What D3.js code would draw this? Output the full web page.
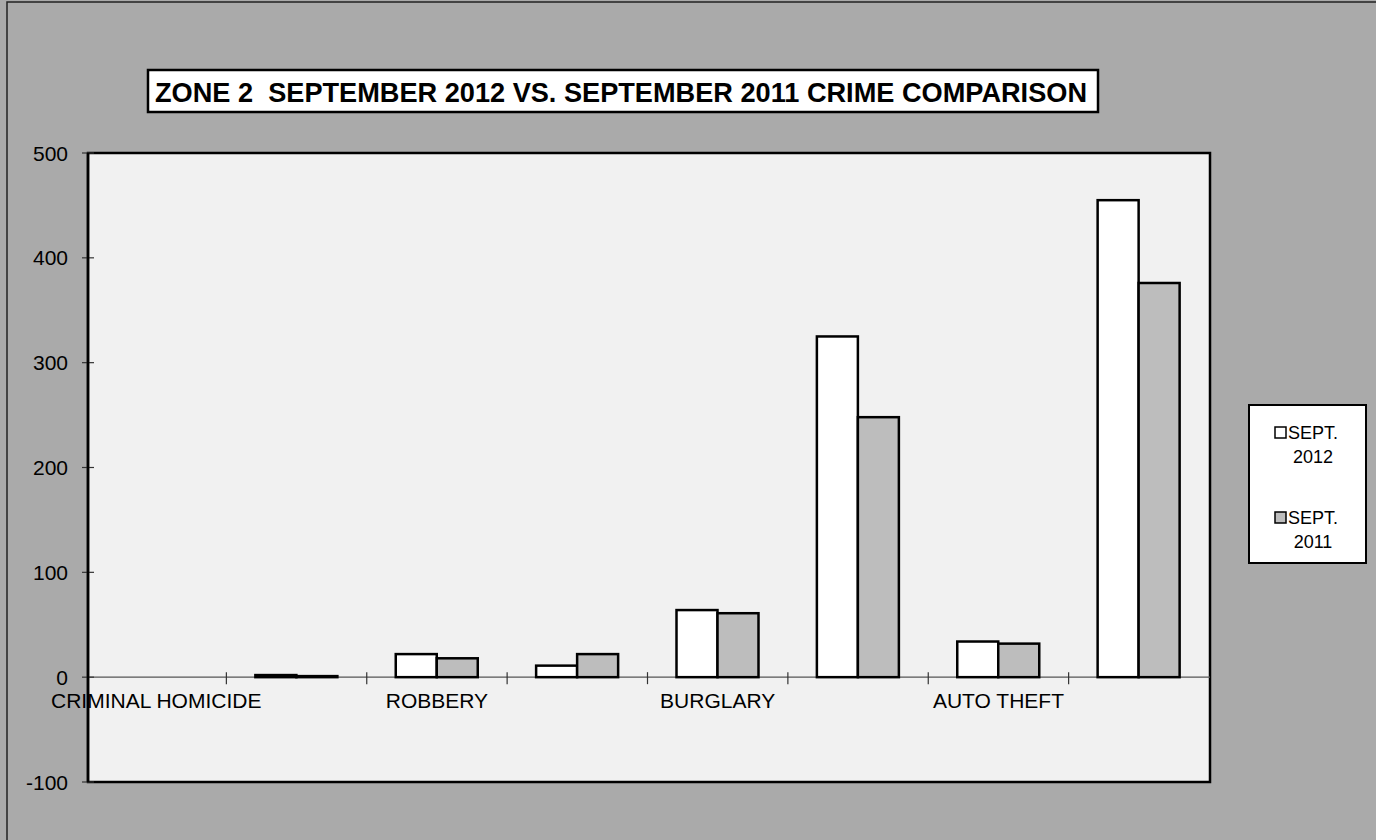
<!DOCTYPE html>
<html lang="en">

<head>
  <meta charset="UTF-8">
  <title>Zone 2 crime comparison</title>
  <style>
    body { margin: 0; background: #aaaaaa; }
    text { font-family: "Liberation Sans", Arial, sans-serif; fill: #000; }
  </style>
</head>

<body>
  <svg id="svg" width="1376" height="840"></svg>

  <script src="https://cdn.jsdelivr.net/npm/d3@7"></script>
  <script>
    // data
    const categories = ["CRIMINAL HOMICIDE", "RAPE", "ROBBERY", "AGG. ASSAULT", "BURGLARY", "LARCENY", "AUTO THEFT", "TOTAL"]
    const shownLabels = ["CRIMINAL HOMICIDE", "ROBBERY", "BURGLARY", "AUTO THEFT"]
    const seriesNames = ["SEPT. 2012", "SEPT. 2011"]
    const sept2012 = [0, 2, 22, 11, 64, 325, 34, 455]
    const sept2011 = [0, 1, 18, 22, 61, 248, 32, 376]
    const yTicks = [-100, 0, 100, 200, 300, 400, 500]
    const title = "ZONE 2  SEPTEMBER 2012 VS. SEPTEMBER 2011 CRIME COMPARISON"

    const svg = d3.select("#svg")

    // outer chart frame
    svg.append("rect")
      .attr("x", 7).attr("y", 2)
      .attr("width", 1400).attr("height", 860)
      .attr("fill", "#aaaaaa")
      .attr("stroke", "#222").attr("stroke-width", 1.5)

    const plotLeft = 88, plotRight = 1210, plotTop = 153, plotBottom = 782

    const y = d3.scaleLinear()
      .domain([-100, 500])
      .range([plotBottom, plotTop])

    const x0 = d3.scaleBand()
      .domain(categories)
      .range([86, 1209])

    const x1 = d3.scaleBand()
      .domain(seriesNames)
      .range([29, 111])

    // plot area
    svg.append("rect")
      .attr("x", plotLeft).attr("y", plotTop)
      .attr("width", plotRight - plotLeft).attr("height", plotBottom - plotTop)
      .attr("fill", "#f1f1f1")
      .attr("stroke", "#000").attr("stroke-width", 2.5)

    // zero line
    svg.append("line")
      .attr("x1", plotLeft).attr("x2", plotRight)
      .attr("y1", y(0)).attr("y2", y(0))
      .attr("stroke", "#555").attr("stroke-width", 1.2)

    // category ticks on the zero line
    svg.selectAll(".ctick")
      .data(categories.slice(1))
      .enter()
      .append("line")
      .attr("x1", d => x0(d)).attr("x2", d => x0(d))
      .attr("y1", y(0) - 5).attr("y2", y(0) + 7)
      .attr("stroke", "#333").attr("stroke-width", 1.2)

    // y axis ticks and labels
    const yAxis = svg.append("g")
    yAxis.selectAll("line")
      .data(yTicks)
      .enter()
      .append("line")
      .attr("x1", 82).attr("x2", 94)
      .attr("y1", d => y(d)).attr("y2", d => y(d))
      .attr("stroke", "#333").attr("stroke-width", 1.2)
    yAxis.selectAll("text")
      .data(yTicks)
      .enter()
      .append("text")
      .attr("x", 68)
      .attr("y", d => y(d))
      .attr("dy", "0.36em")
      .attr("text-anchor", "end")
      .style("font-size", "21px")
      .text(d => d)

    // bars
    const rows = categories.map((c, i) => ({ cat: c, vals: [sept2012[i], sept2011[i]] }))
    const fills = ["#ffffff", "#bdbdbd"]

    const groups = svg.selectAll(".cat")
      .data(rows)
      .enter()
      .append("g")
      .attr("transform", d => `translate(${x0(d.cat)},0)`)

    groups.selectAll("rect")
      .data(d => d.vals.map((v, j) => ({ name: seriesNames[j], v, j })).filter(e => e.v > 0))
      .enter()
      .append("rect")
      .attr("x", d => x1(d.name))
      .attr("y", d => y(d.v))
      .attr("width", x1.bandwidth())
      .attr("height", d => y(0) - y(d.v))
      .attr("fill", d => fills[d.j])
      .attr("stroke", "#000")
      .attr("stroke-width", 2.5)

    // category labels (every other one shown)
    svg.selectAll(".clabel")
      .data(shownLabels)
      .enter()
      .append("text")
      .attr("x", d => x0(d) + x0.bandwidth() / 2)
      .attr("y", 708)
      .attr("text-anchor", "middle")
      .style("font-size", "21px")
      .text(d => d)

    // redraw left axis over the label
    svg.append("line")
      .attr("x1", plotLeft).attr("x2", plotLeft)
      .attr("y1", plotTop).attr("y2", plotBottom)
      .attr("stroke", "#000").attr("stroke-width", 2.5)

    // title box
    svg.append("rect")
      .attr("x", 148).attr("y", 70)
      .attr("width", 950).attr("height", 42)
      .attr("fill", "#fff")
      .attr("stroke", "#000").attr("stroke-width", 2.5)
    svg.append("text")
      .attr("x", 155).attr("y", 102)
      .attr("textLength", 932)
      .attr("lengthAdjust", "spacingAndGlyphs")
      .style("font-size", "28px")
      .style("font-weight", "bold")
      .style("white-space", "pre")
      .text(title)

    // legend
    const legend = svg.append("g")
    legend.append("rect")
      .attr("x", 1249).attr("y", 405)
      .attr("width", 117).attr("height", 158)
      .attr("fill", "#fff")
      .attr("stroke", "#000").attr("stroke-width", 2)

    const legendY = [433, 518]
    seriesNames.forEach((name, i) => {
      const parts = name.split(" ")
      legend.append("rect")
        .attr("x", 1275).attr("y", legendY[i] - 6)
        .attr("width", 11).attr("height", 11)
        .attr("fill", fills[i])
        .attr("stroke", "#000").attr("stroke-width", 1.5)
      legend.append("text")
        .attr("x", 1288).attr("y", legendY[i])
        .attr("dy", "0.36em")
        .style("font-size", "18px")
        .text(parts[0])
      legend.append("text")
        .attr("x", 1313).attr("y", legendY[i] + 24)
        .attr("dy", "0.36em")
        .attr("text-anchor", "middle")
        .style("font-size", "18px")
        .text(parts[1])
    })
  </script>
</body>

</html>
